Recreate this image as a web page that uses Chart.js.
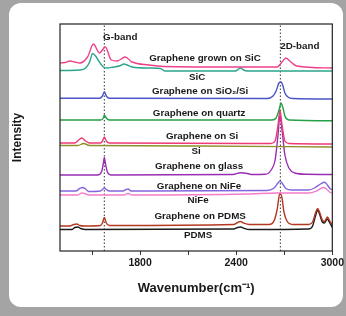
<!DOCTYPE html>
<html><head><meta charset="utf-8">
<script src="https://cdn.jsdelivr.net/npm/chart.js@4/dist/chart.umd.min.js"></script>
<style>html,body{margin:0;padding:0;background:#a4a4a4;overflow:hidden;}</style>
</head><body>
<canvas id="c" width="346" height="316"></canvas>
<script>
// ---- data (wavenumber cm^-1, intensity a.u. with vertical offsets) ----
const grapheneGrownOnSiC = [[1300,188],[1331,188.5],[1362,190],[1392,189],[1423,188],[1472,194],[1509,207],[1546,198],[1583,204],[1620,191],[1657,190],[1707,194],[1750,189],[1854,186],[1947,184.5],[2409,184],[2655,184],[2686,189],[2710,193],[2741,189],[2778,185],[3000,183]];
const siC = [[1300,180.5],[1423,181],[1460,183],[1485,189],[1503,197.5],[1522,195],[1546,189],[1571,184],[1596,183],[1633,184],[1670,185],[1700,187],[1719,186],[1750,184],[1854,183],[1928,182.5],[1953,180],[2396,180],[2415,182],[2427,183],[2446,181],[2470,180],[3000,180]];
const grapheneOnSiO2Si = [[1300,152.7],[1546,152.7],[1565,155],[1577,159.3],[1589,155],[1608,152.7],[2593,152.5],[2630,155],[2649,160],[2667,168],[2680,169],[2692,165],[2704,158],[2723,154],[2754,152.5],[3000,152]];
const grapheneOnQuartz = [[1300,131],[1553,131],[1571,133],[1577,136],[1589,133],[1608,131],[2624,131],[2649,133],[2667,141],[2680,147.7],[2692,143],[2704,135],[2729,131],[3000,130.3]];
const grapheneOnSi = [[1300,108],[1392,108],[1417,111],[1436,113],[1460,110],[1485,108],[1553,108],[1565,110],[1577,114],[1589,110],[1608,108],[2618,107.5],[2643,110],[2661,126],[2673,141],[2686,126],[2704,110],[2729,107.5],[3000,107]];
const si = [[1300,105.5],[1411,105.5],[1448,107.5],[1485,105.5],[2162,105],[3000,104]];
const grapheneOnGlass = [[1300,76],[1534,76],[1559,79],[1571,88],[1577,93.5],[1583,88],[1596,79],[1620,76],[2378,76.5],[2427,78.2],[2470,77.5],[2501,76.5],[2581,76.7],[2618,81],[2643,91],[2661,116],[2673,136],[2686,121],[2704,96],[2729,83],[2766,78],[2840,76.7],[3000,76.5]];
const grapheneOnNiFe = [[1300,60],[1399,60],[1423,62.5],[1442,63.5],[1460,62],[1479,59.5],[1553,60],[1565,61.5],[1577,63],[1589,61.5],[1608,60],[1694,60],[1713,61.5],[1725,62],[1743,60],[2593,60.5],[2636,63],[2661,68],[2673,70],[2686,68],[2710,62.5],[2747,61],[2852,61],[2889,63],[2926,67],[2951,68.7],[2969,66],[2988,62],[3000,61.5]];
const niFe = [[1300,56],[1411,56],[1436,58],[1454,57.5],[1479,56],[1700,56],[1725,57.5],[1750,56],[2470,57],[2655,58],[2852,58],[2901,60],[2945,63.5],[2963,62],[2988,58.5],[3000,58]];
const grapheneOnPDMS = [[1300,25],[1362,25],[1386,26.5],[1405,27],[1423,25.5],[1454,25],[1553,25.5],[1565,28],[1577,33.5],[1589,28],[1608,25.5],[2384,26.5],[2409,28.5],[2427,29.5],[2446,28],[2483,26.5],[2606,26.5],[2636,30],[2655,41],[2673,58],[2686,53],[2698,39],[2717,30],[2754,26.5],[2852,26.5],[2877,29],[2895,38],[2908,42.5],[2920,39],[2938,31],[2951,29.5],[2969,34],[2981,31],[3000,26]];
const pdms = [[1300,21.5],[1374,21.5],[1392,23.5],[1411,24],[1429,22.5],[1460,21.5],[2384,22],[2409,23.5],[2427,24],[2452,22.5],[2483,21.5],[2852,22],[2877,25],[2895,35],[2908,41],[2920,37],[2938,29],[2951,28],[2969,32],[2981,29],[3000,23.5]];

const seriesNames = ['Graphene grown on SiC','SiC','Graphene on SiO\u2082/Si','Graphene on quartz','Graphene on Si','Si','Graphene on glass','Graphene on NiFe','NiFe','Graphene on PDMS','PDMS'];
const seriesData = [grapheneGrownOnSiC, siC, grapheneOnSiO2Si, grapheneOnQuartz, grapheneOnSi, si, grapheneOnGlass, grapheneOnNiFe, niFe, grapheneOnPDMS, pdms];
const seriesColors = ['#ee3f8a','#2ba48c','#4a55c6','#24a046','#ee3a76','#8e8f2a','#9b2db5','#8466dc','#f47ccc','#b3381f','#1c1c1c'];

const bandPositions = [1577, 2676];
const bandNames = ['G-band','2D-band'];
const bandLabelAt = [[1676,214],[2797,205]];
const seriesLabelAt = [[2205,193],[2156,174],[2175,160],[2168,138],[2187,115],[2150,100],[2168,85],[2168,65],[2162,51],[2175,35],[2162,16]];

const xMin = 1300, xMax = 3000, yMin = 0, yMax = 227;
const xTickValues = [1500,1800,2100,2400,2700,3000];
const xTickLabelled = [1800,2400,3000];

// ---- chart ----
const datasets = seriesData.map((d,i)=>({
  label: seriesNames[i],
  data: d.map(p=>({x:p[0],y:p[1]})),
  borderColor: seriesColors[i],
  borderWidth: 1.4,
  pointRadius: 0,
  cubicInterpolationMode: 'monotone',
  fill: false
}));
bandPositions.forEach((b,i)=>{
  datasets.push({
    label: bandNames[i],
    data: [{x:b,y:yMin},{x:b,y:yMax}],
    borderColor: '#555',
    borderWidth: 1.2,
    borderDash: [1.5,2],
    pointRadius: 0
  });
});

const bgPlugin = {
  id:'bg',
  beforeDraw(chart){
    const ctx = chart.ctx;
    ctx.save();
    ctx.fillStyle = '#a4a4a4';
    ctx.fillRect(0,0,chart.width,chart.height);
    ctx.fillStyle = '#ffffff';
    ctx.beginPath();
    if (ctx.roundRect) ctx.roundRect(9,3,334,304,12); else ctx.rect(9,3,334,304);
    ctx.fill();
    ctx.restore();
  }
};
const framePlugin = {
  id:'frame',
  afterDatasetsDraw(chart){
    const {ctx, chartArea:a, scales} = chart;
    ctx.save();
    ctx.strokeStyle = '#222';
    ctx.lineWidth = 1.2;
    ctx.strokeRect(a.left, a.top, a.right-a.left, a.bottom-a.top);
    ctx.fillStyle = '#1a1a1a';
    ctx.textAlign = 'center';
    ctx.textBaseline = 'middle';
    ctx.font = 'bold 9.8px "Liberation Sans", Arial, sans-serif';
    seriesNames.forEach((n,i)=>{
      ctx.fillText(n, scales.x.getPixelForValue(seriesLabelAt[i][0]), scales.y.getPixelForValue(seriesLabelAt[i][1]));
    });
    bandNames.forEach((n,i)=>{
      ctx.fillText(n, scales.x.getPixelForValue(bandLabelAt[i][0]), scales.y.getPixelForValue(bandLabelAt[i][1]));
    });
    ctx.restore();
  }
};

new Chart(document.getElementById('c'), {
  type: 'line',
  data: { datasets },
  plugins: [bgPlugin, framePlugin],
  options: {
    responsive: false,
    animation: false,
    events: [],
    layout: { padding: { left: 10, right: 10, top: 24, bottom: 17 } },
    plugins: { legend: { display: false }, tooltip: { enabled: false } },
    scales: {
      x: {
        type: 'linear', min: xMin, max: xMax,
        afterBuildTicks: s => { s.ticks = xTickValues.map(v=>({value:v})); },
        afterFit: s => { s.height = 48; },
        ticks: {
          autoSkip: false, maxRotation: 0, padding: 2,
          color: '#1a1a1a',
          font: { family: '"Liberation Sans", Arial, sans-serif', size: 10.5, weight: 'bold' },
          callback: v => xTickLabelled.includes(v) ? String(v) : ''
        },
        grid: { display: true, drawOnChartArea: false, drawTicks: true, tickLength: 4, color: '#333', lineWidth: 1 },
        border: { display: false },
        title: { display: true, text: 'Wavenumber(cm\u207B\u00B9)', color: '#1a1a1a',
          font: { family: '"Liberation Sans", Arial, sans-serif', size: 13, weight: 'bold' }, padding: { top: 0, bottom: 3 } }
      },
      y: {
        type: 'linear', min: yMin, max: yMax,
        afterFit: s => { s.width = 50; },
        ticks: { display: false },
        grid: { display: false },
        border: { display: false },
        title: { display: true, text: 'Intensity', color: '#1a1a1a',
          font: { family: '"Liberation Sans", Arial, sans-serif', size: 12, weight: 'bold' }, padding: 0 }
      }
    }
  }
});
</script>
</body></html>
